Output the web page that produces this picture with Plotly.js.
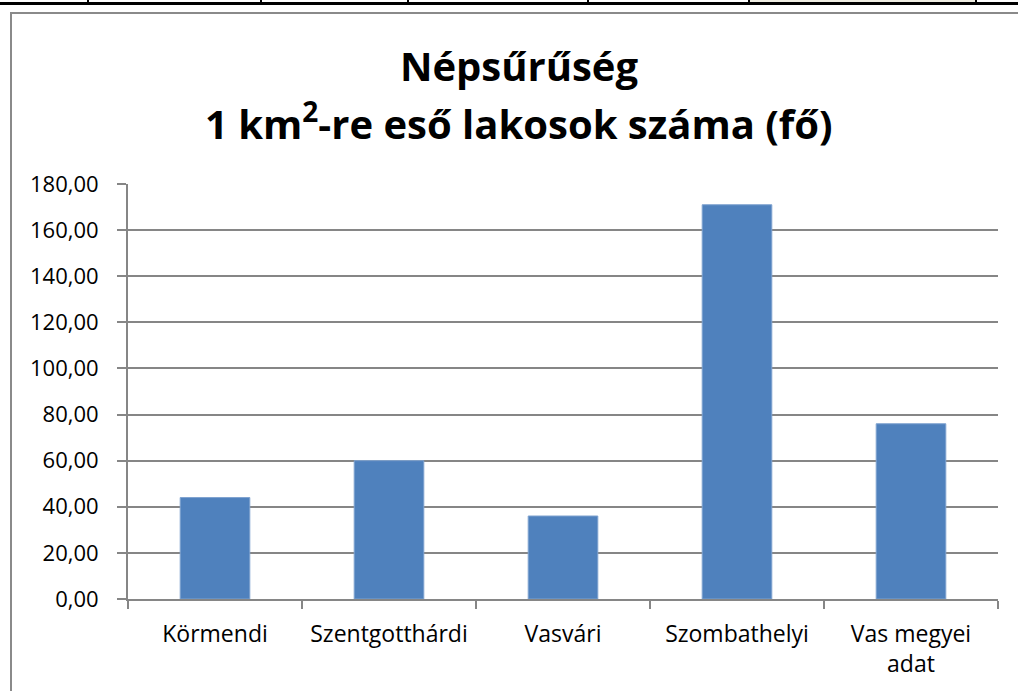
<!DOCTYPE html>
<html>
<head>
<meta charset="utf-8">
<script src="https://cdn.plot.ly/plotly-3.0.1.min.js"></script>
<style>
  html, body { margin:0; padding:0; background:#fff; }
  #chart { position:absolute; left:0; top:0; width:1018px; height:691px; }
  .deco { position:absolute; pointer-events:none; z-index:5; }
</style>
</head>
<body>
<div id="chart"></div>
<!-- table fragment above the chart -->
<div class="deco" style="left:749px;top:0;width:227px;height:2px;background:#eeece1;"></div>
<div class="deco" style="left:0;top:2px;width:1018px;height:3px;background:#000;"></div>
<div class="deco" style="left:87px;top:0;width:2px;height:3px;background:#000;"></div>
<div class="deco" style="left:260px;top:0;width:2px;height:3px;background:#000;"></div>
<div class="deco" style="left:407px;top:0;width:2px;height:3px;background:#000;"></div>
<div class="deco" style="left:587px;top:0;width:2px;height:3px;background:#000;"></div>
<div class="deco" style="left:748px;top:0;width:2px;height:3px;background:#000;"></div>
<div class="deco" style="left:975px;top:0;width:2px;height:3px;background:#000;"></div>
<!-- chart frame -->
<div class="deco" style="left:10px;top:12px;width:1010px;height:690px;border-left:2px solid #8a8a8a;border-top:2px solid #8a8a8a;"></div>
<script>
const categories = ["Körmendi", "Szentgotthárdi", "Vasvári", "Szombathelyi", "Vas megyei<br>adat"];
const density = [44, 60, 36, 171, 76];
const titleLine1 = "<b>Népsűrűség</b>";
const titleLine2 = "<b>1 km<sup>2</sup>-re eső lakosok száma (fő)</b>";

const FONT = "Open Sans, Liberation Sans, sans-serif";

const data = [{
  type: "bar",
  x: categories,
  y: density,
  marker: { color: "#4f81bd", line: { color: "#7ea2cf", width: 1 } },
  hoverinfo: "x+y"
}];

const layout = {
  width: 1018,
  height: 691,
  margin: { l: 128, r: 20, t: 184, b: 92 },
  paper_bgcolor: "rgba(0,0,0,0)",
  plot_bgcolor: "rgba(0,0,0,0)",
  separators: ",.",
  showlegend: false,
  bargap: 0.6,
  font: { family: FONT, color: "#000", size: 22 },
  title: {
    text: titleLine1,
    font: { family: FONT, size: 40, color: "#000" },
    x: 519 / 1018, xref: "container", xanchor: "center",
    y: 1 - 67 / 691, yref: "container", yanchor: "middle"
  },
  annotations: [{
    text: titleLine2,
    xref: "paper", yref: "paper",
    x: (519 - 128) / 870, y: 1 + 63 / 415,
    xanchor: "center", yanchor: "middle",
    showarrow: false,
    font: { family: FONT, size: 40, color: "#000" }
  }],
  xaxis: {
    type: "category",
    showgrid: false,
    showline: true, linecolor: "#868686", linewidth: 2,
    ticks: "outside", tickson: "boundaries", ticklen: 8, tickwidth: 2, tickcolor: "#868686",
    tickfont: { family: FONT, size: 23, color: "#000" },
    ticklabelstandoff: 13,
    fixedrange: true
  },
  yaxis: {
    range: [0, 180],
    dtick: 20,
    tick0: 0,
    tickformat: ".2f",
    showgrid: true, gridcolor: "#868686", gridwidth: 2,
    showline: true, linecolor: "#868686", linewidth: 2,
    zeroline: false,
    ticks: "outside", ticklen: 9, tickwidth: 2, tickcolor: "#868686",
    tickfont: { family: FONT, size: 22, color: "#000" },
    ticklabelstandoff: 14,
    fixedrange: true
  }
};

Plotly.newPlot("chart", data, layout, { displayModeBar: false, staticPlot: true });
</script>
</body>
</html>
